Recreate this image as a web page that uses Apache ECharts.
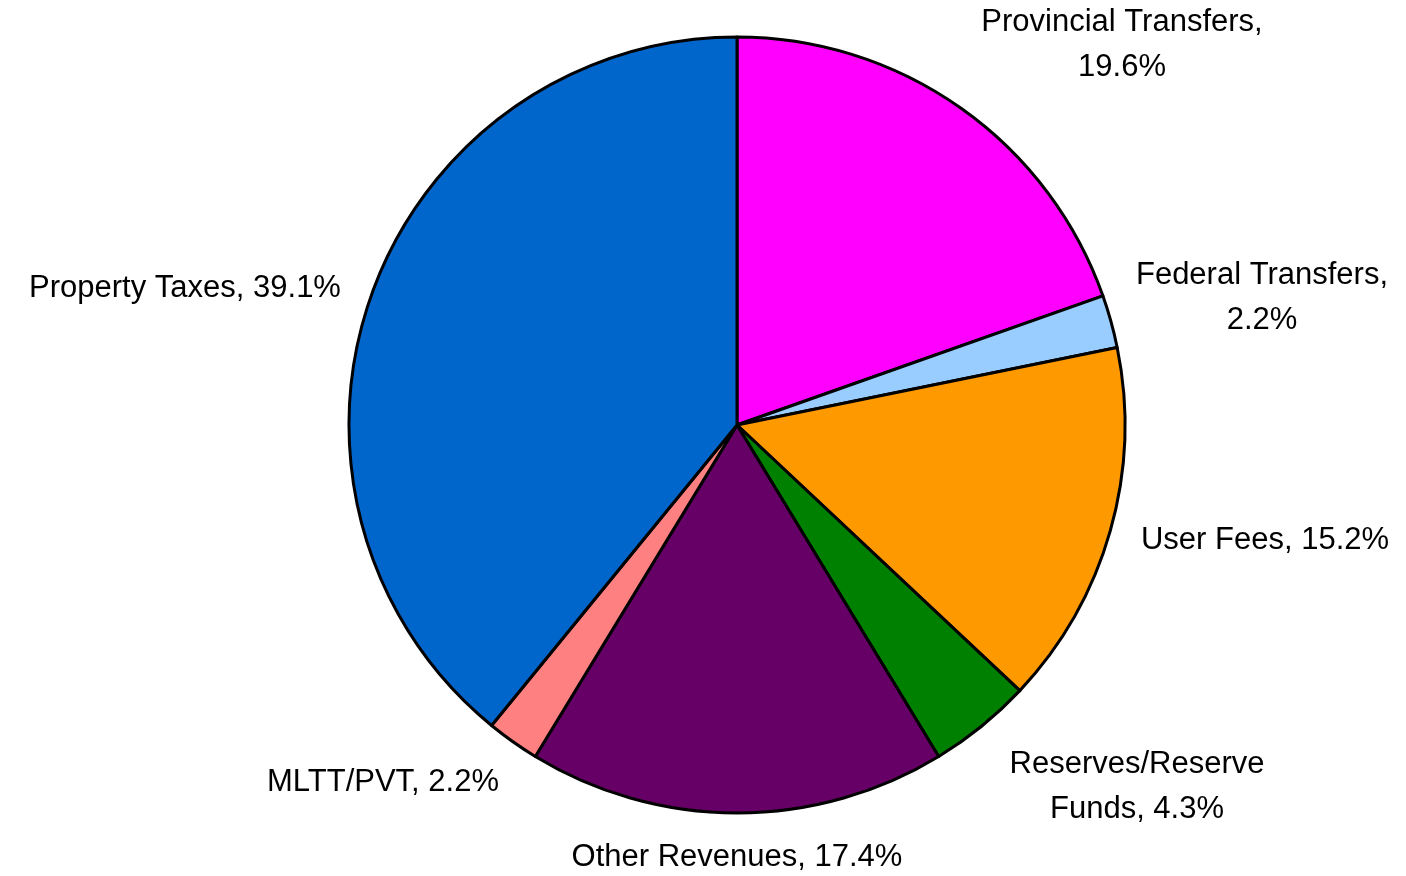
<!DOCTYPE html>
<html>
<head>
<meta charset="utf-8">
<title>Revenue Sources</title>
<script src="https://cdn.jsdelivr.net/npm/echarts@6/dist/echarts.min.js"></script>
<style>
  html, body { margin: 0; padding: 0; background: #fff; }
  #chart { width: 1406px; height: 876px; }
</style>
</head>
<body>
<div id="chart"></div>
<script>
// slices, clockwise from 12 o'clock
var categories = ['Provincial Transfers', 'Federal Transfers', 'User Fees', 'Reserves/Reserve Funds',
  'Other Revenues', 'MLTT/PVT', 'Property Taxes'];
var shares = [19.6, 2.2, 15.2, 4.3, 17.4, 2.2, 39.1];
var colors = ['#FF00FF', '#99CCFF', '#FF9900', '#008000', '#660066', '#FF8080', '#0066CC'];

// where each label sits (text centre)
var labelPos = [
  [1122, 45], [1262, 298], [1265, 540], [1137, 787],
  [737, 857], [383, 782], [185, 288]
];

function labelText(i) {
  var v = shares[i].toFixed(1) + '%';
  var n = categories[i];
  if (i === 0) return 'Provincial Transfers,\n' + v;
  if (i === 1) return 'Federal Transfers,\n' + v;
  if (i === 3) return 'Reserves/Reserve\nFunds, ' + v;
  return n + ', ' + v;
}

var myChart = echarts.init(document.getElementById('chart'));

var option = {
  backgroundColor: '#fff',
  animation: false,
  series: [{
    type: 'pie',
    center: [737, 425],
    radius: 388,
    startAngle: 90,
    clockwise: true,
    avoidLabelOverlap: false,
    itemStyle: { borderColor: '#000', borderWidth: 3 },
    label: {
      show: true,
      position: 'outside',
      formatter: function (p) { return labelText(p.dataIndex); },
      color: '#000',
      fontFamily: 'Liberation Sans, Arial, sans-serif',
      fontSize: 31,
      lineHeight: 45,
      align: 'center'
    },
    labelLine: { show: false },
    labelLayout: function (p) {
      var pos = labelPos[p.dataIndex];
      return { x: pos[0], y: pos[1], align: 'center', verticalAlign: 'middle' };
    },
    emphasis: { disabled: true },
    data: categories.map(function (c, i) {
      return { name: c, value: shares[i], itemStyle: { color: colors[i] } };
    })
  }]
};

myChart.setOption(option);
</script>
</body>
</html>
